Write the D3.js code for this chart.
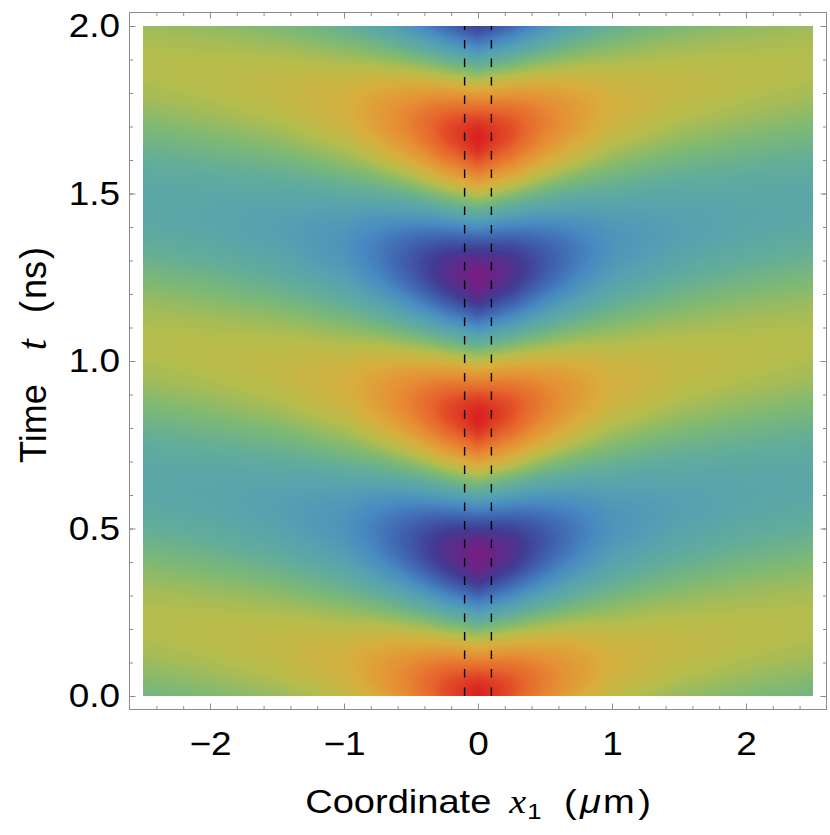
<!DOCTYPE html>
<html>
<head>
<meta charset="utf-8">
<script src="https://cdn.jsdelivr.net/npm/d3@7"></script>
<style>
  html, body { margin: 0; padding: 0; background: #fff; }
  svg { display: block; }
</style>
</head>
<body>
<svg id="chart" width="830" height="835"></svg>
<script>
// Field profile, as a function of distance |x1| from the centre.
const distance  = [0, 0.25, 0.5, 0.75, 1.0, 1.5, 2.0, 2.5];          // um
const amplitude = [0.5, 0.44, 0.35, 0.27, 0.20, 0.15, 0.125, 0.115];  // colour-scale units
const level     = [0.5, 0.5, 0.5, 0.505, 0.51, 0.515, 0.52, 0.52];    // mean on the colour scale
const lag       = [0, 0.02, 0.045, 0.07, 0.095, 0.145, 0.185, 0.22];  // ns
const period = 0.833;   // ns, centre peaks at 0, 0.83, 1.67

const xTicks = [-2, -1, 0, 1, 2];
const yTicks = [0, 0.5, 1.0, 1.5, 2.0];
const xMinorTicks = d3.range(-12, 13).map(i => i / 5);
const yMinorTicks = d3.range(0, 21).map(i => i / 10);
const guideLines = [-0.1, 0.1];

const rainbow = ["#781C81", "#413B93", "#4065B1", "#488BC2", "#55A1B1", "#63AD99",
                 "#7FB972", "#B5BD4C", "#D9AD3C", "#E68E34", "#E6642C", "#D92120"];

const SANS = "'Liberation Sans', Arial, Helvetica, sans-serif";
const SERIF = "'Liberation Serif', 'Times New Roman', serif";
const TICK_SIZE = 33;
const TITLE_SIZE = 34;
const STRETCH = 1.12;   // the original picture is a bit wider than tall
const FRAME = "#8c8c8c";

const svg = d3.select("#chart");

const x = d3.scaleLinear().domain([-2.5, 2.5]).range([143, 813]);
const y = d3.scaleLinear().domain([0, 2]).range([696, 26]);
const pad = 13.5;
const frame = {
    left: x.range()[0] - pad, right: x.range()[1] + pad,
    top: y.range()[1] - pad, bottom: y.range()[0] + pad
};

const color = d3.scaleLinear()
    .domain(rainbow.map((c, i) => i / (rainbow.length - 1)))
    .range(rainbow)
    .clamp(true);
const ampAt = d3.scaleLinear().domain(distance).range(amplitude).clamp(true);
const levelAt = d3.scaleLinear().domain(distance).range(level).clamp(true);
const lagAt = d3.scaleLinear().domain(distance).range(lag).clamp(true);

// --- density image --------------------------------------------------------
const x0 = x.range()[0], y0 = y.range()[1];
const w = Math.round(x.range()[1] - x0);
const h = Math.round(y.range()[0] - y0);

const lut = d3.range(1024).map(i => d3.rgb(color(i / 1023)));
const canvas = document.createElement("canvas");
canvas.width = w;
canvas.height = h;
const ctx = canvas.getContext("2d");
const img = ctx.createImageData(w, h);

for (let i = 0; i < w; i++) {
    const d = Math.abs(x.invert(x0 + i + 0.5));
    const a = ampAt(d), m = levelAt(d), l = lagAt(d);
    for (let j = 0; j < h; j++) {
        const t = y.invert(y0 + j + 0.5);
        const v = m + a * Math.cos(2 * Math.PI * (t - l) / period);
        const c = lut[Math.max(0, Math.min(1023, Math.round(v * 1023)))];
        const k = (j * w + i) * 4;
        img.data[k] = c.r;
        img.data[k + 1] = c.g;
        img.data[k + 2] = c.b;
        img.data[k + 3] = 255;
    }
}
ctx.putImageData(img, 0, 0);

svg.append("image")
    .attr("x", x0)
    .attr("y", y0)
    .attr("width", w)
    .attr("height", h)
    .attr("preserveAspectRatio", "none")
    .attr("href", canvas.toDataURL());

// --- dashed guides --------------------------------------------------------
svg.append("g")
    .selectAll("line")
    .data(guideLines)
    .join("line")
    .attr("x1", d => x(d))
    .attr("x2", d => x(d))
    .attr("y1", y(0))
    .attr("y2", y(2))
    .attr("stroke", "#000")
    .attr("stroke-width", 1.4)
    .attr("stroke-dasharray", "8.5,10");

// --- frame and ticks ------------------------------------------------------
function styleAxis(g) {
    g.attr("color", FRAME).attr("font-family", SANS).attr("font-size", TICK_SIZE);
    g.select(".domain").remove();
    g.selectAll("text").attr("fill", "#000");
}

const axes = [
    { axis: d3.axisBottom(x), at: `translate(0,${frame.bottom})`, minor: xMinorTicks, major: xTicks },
    { axis: d3.axisTop(x),    at: `translate(0,${frame.top})`,    minor: xMinorTicks, major: xTicks },
    { axis: d3.axisLeft(y),   at: `translate(${frame.left},0)`,   minor: yMinorTicks, major: yTicks },
    { axis: d3.axisRight(y),  at: `translate(${frame.right},0)`,  minor: yMinorTicks, major: yTicks }
];
axes.forEach(a => {
    svg.append("g")
        .attr("transform", a.at)
        .call(a.axis.tickValues(a.minor).tickSize(-3.5).tickFormat(""))
        .call(styleAxis);
    svg.append("g")
        .attr("transform", a.at)
        .call(a.axis.tickValues(a.major).tickSize(-6).tickFormat(""))
        .call(styleAxis);
});

// tick labels on bottom and left only
const bottomLabels = svg.append("g")
    .attr("transform", `translate(0,${frame.bottom})`)
    .call(d3.axisBottom(x).tickValues(xTicks).tickSize(0).tickPadding(22).tickFormat(d3.format("d")))
    .call(styleAxis);
bottomLabels.selectAll("line").remove();
bottomLabels.selectAll("text").attr("transform", `scale(${STRETCH},1)`);

const leftLabels = svg.append("g")
    .attr("transform", `translate(${frame.left},0)`)
    .call(d3.axisLeft(y).tickValues(yTicks).tickSize(0).tickPadding(8.5).tickFormat(d3.format(".1f")))
    .call(styleAxis);
leftLabels.selectAll("line").remove();
leftLabels.selectAll("text").attr("transform", `scale(${STRETCH},1)`);

// frame
svg.append("rect")
    .attr("x", frame.left)
    .attr("y", frame.top)
    .attr("width", frame.right - frame.left)
    .attr("height", frame.bottom - frame.top)
    .attr("fill", "none")
    .attr("stroke", FRAME)
    .attr("stroke-width", 1);

// --- axis titles ----------------------------------------------------------
function title(parts, transform, size) {
    const t = svg.append("text")
        .attr("transform", transform)
        .attr("text-anchor", "middle")
        .attr("font-family", SANS)
        .attr("font-size", size)
        .attr("fill", "#000");
    parts.forEach(p => {
        t.append("tspan")
            .attr("dx", p.dx || 0)
            .attr("dy", p.dy || 0)
            .attr("font-family", p.family || SANS)
            .attr("font-style", p.italic ? "italic" : "normal")
            .attr("font-size", p.size || size)
            .text(p.text);
    });
}

title([
    { text: "Coordinate" },
    { text: "x", family: SERIF, italic: true, dx: 16 },
    { text: "1", size: 23, dy: 6, dx: 1 },
    { text: "(", dx: 20, dy: -6 },
    { text: "\u03bc", italic: true, dx: 3 },
    { text: "m", dx: 2 },
    { text: ")", dx: 3 }
], `translate(${(x.range()[0] + x.range()[1]) / 2},813) scale(${STRETCH},1)`, TITLE_SIZE);

title([
    { text: "Time" },
    { text: "t", family: SERIF, italic: true, dx: 34, size: 40 },
    { text: "(", dx: 26 },
    { text: "ns", dx: 2 },
    { text: ")", dx: 2 }
], `translate(46,355) scale(1.05,1) rotate(-90)`, 36);
</script>
</body>
</html>
